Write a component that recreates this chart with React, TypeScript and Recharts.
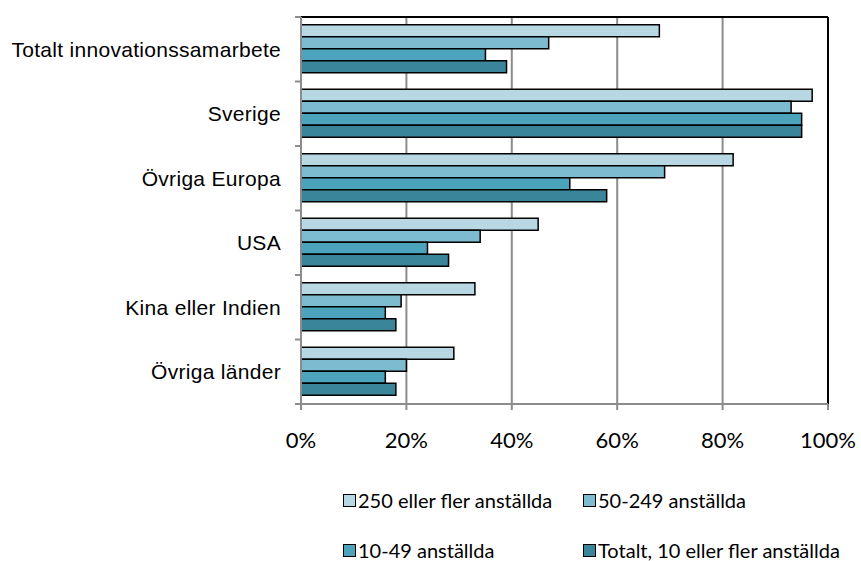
import { BarChart, Bar, XAxis, YAxis, CartesianGrid, Legend, ReferenceLine } from "recharts";

const categories = [
  "Totalt innovationssamarbete",
  "Sverige",
  "Övriga Europa",
  "USA",
  "Kina eller Indien",
  "Övriga länder",
];
const stora = [68, 97, 82, 45, 33, 29];
const medelstora = [47, 93, 69, 34, 19, 20];
const sma = [35, 95, 51, 24, 16, 16];
const totalt = [39, 95, 58, 28, 18, 18];
const seriesNames = [
  "250 eller fler anställda",
  "50-249 anställda",
  "10-49 anställda",
  "Totalt, 10 eller fler anställda",
];
const xTicks = [0, 20, 40, 60, 80, 100];

const colors = ["#b7d7e2", "#7dbbd0", "#4ba3bc", "#3a8599"];
const gridGray = "#8c8c8c";
const TICK_SIZE = 6;
const TICK_MARGIN = 14;

const data = categories.map((name, i) => ({
  name,
  stora: stora[i],
  medelstora: medelstora[i],
  sma: sma[i],
  totalt: totalt[i],
}));

// Excel puts the category tick marks between the bands, not at their centres
function CategoryTick(props: any) {
  const { x, y, payload, index } = props;
  const half = payload.offset ?? 0;
  const lineX2 = x + TICK_MARGIN + TICK_SIZE;
  const lineX1 = x + TICK_MARGIN;
  return (
    <g>
      <line x1={lineX1} x2={lineX2} y1={y - half} y2={y - half} stroke={gridGray} strokeWidth={2} />
      {index === categories.length - 1 && (
        <line x1={lineX1} x2={lineX2} y1={y + half} y2={y + half} stroke={gridGray} strokeWidth={2} />
      )}
      <text
        x={x}
        y={y}
        dy="0.35em"
        textAnchor="end"
        fill="#000"
        fontSize={21}
        letterSpacing={0.3}
        fontFamily="'Liberation Sans', Arial, sans-serif"
      >
        {payload.value}
      </text>
    </g>
  );
}

function LegendContent(props: any) {
  const items = [...(props.payload ?? [])].sort(
    (a: any, b: any) => seriesNames.indexOf(a.value) - seriesNames.indexOf(b.value)
  );
  return (
    <div
      style={{
        display: "grid",
        gridTemplateColumns: "240px auto",
        gridAutoRows: "50px",
        paddingTop: 14,
        paddingLeft: 343,
        fontFamily: "Lato, sans-serif",
        fontSize: 20,
        color: "#000",
      }}
    >
      {items.map((it: any) => (
        <div key={it.value} style={{ display: "flex", alignItems: "center", height: 50 }}>
          <span
            style={{
              display: "inline-block",
              width: 11,
              height: 11,
              background: it.color,
              border: "1.5px solid #000",
              marginRight: 2,
            }}
          />
          <span>{it.value}</span>
        </div>
      ))}
    </div>
  );
}

export default function App() {
  return (
    <div style={{ position: "absolute", left: 0, top: 0 }}>
      <BarChart
        width={861}
        height={561}
        data={data}
        layout="vertical"
        margin={{ top: 17, right: 33, left: 0, bottom: 0 }}
        barCategoryGap="12%"
        barGap={0}
      >
        <CartesianGrid horizontal={false} stroke={gridGray} strokeWidth={2} />
        {/* black top edge of the plot frame */}
        <CartesianGrid
          vertical={false}
          stroke="#000"
          strokeWidth={2}
          horizontalCoordinatesGenerator={({ offset }: any) => [offset.top]}
        />
        <XAxis
          type="number"
          domain={[0, 100]}
          ticks={xTicks}
          tickFormatter={(v) => `${v}%`}
          height={57}
          tickSize={TICK_SIZE}
          tickMargin={22}
          axisLine={{ stroke: gridGray, strokeWidth: 2 }}
          tickLine={{ stroke: gridGray, strokeWidth: 2 }}
          tick={{ fill: "#000", fontSize: 22, fontFamily: "Lato, sans-serif" }}
        />
        <YAxis
          type="category"
          dataKey="name"
          width={301}
          tickSize={TICK_SIZE}
          tickMargin={TICK_MARGIN}
          tickLine={false}
          axisLine={{ stroke: gridGray, strokeWidth: 2 }}
          tick={<CategoryTick />}
          interval={0}
        />
        <ReferenceLine x={100} stroke="#000" strokeWidth={2} />
        <Legend
          verticalAlign="bottom"
          wrapperStyle={{ left: 0, width: 861, height: 100 }}
          content={<LegendContent />}
        />
        <Bar dataKey="stora" name={seriesNames[0]} fill={colors[0]} stroke="#000" strokeWidth={1.5} isAnimationActive={false} />
        <Bar dataKey="medelstora" name={seriesNames[1]} fill={colors[1]} stroke="#000" strokeWidth={1.5} isAnimationActive={false} />
        <Bar dataKey="sma" name={seriesNames[2]} fill={colors[2]} stroke="#000" strokeWidth={1.5} isAnimationActive={false} />
        <Bar dataKey="totalt" name={seriesNames[3]} fill={colors[3]} stroke="#000" strokeWidth={1.5} isAnimationActive={false} />
      </BarChart>
    </div>
  );
}
